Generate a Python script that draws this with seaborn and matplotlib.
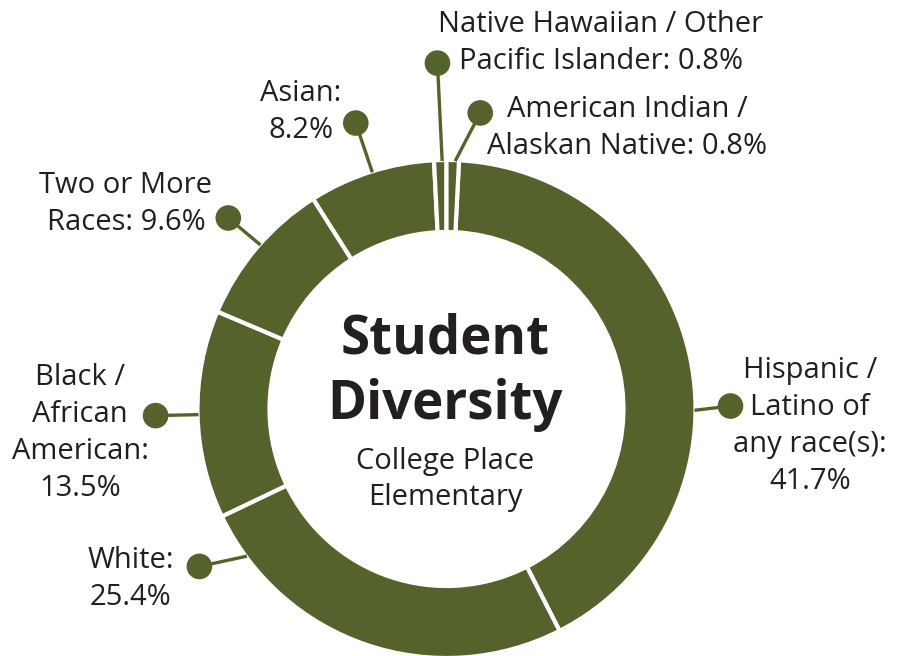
import matplotlib
matplotlib.use("Agg")
import matplotlib.pyplot as plt
import seaborn as sns
import numpy as np

# ---- data ----
categories = [
    "Hispanic / Latino of any race(s)",
    "White",
    "Black / African American",
    "Two or More Races",
    "Asian",
    "Native Hawaiian / Other Pacific Islander",
    "American Indian / Alaskan Native",
]
values = [41.7, 25.4, 13.5, 9.6, 8.2, 0.8, 0.8]
label_texts = [
    "Hispanic /\nLatino of\nany race(s):\n41.7%",
    "White:\n25.4%",
    "Black /\nAfrican\nAmerican:\n13.5%",
    "Two or More\nRaces: 9.6%",
    "Asian:\n8.2%",
    "Native Hawaiian / Other\nPacific Islander: 0.8%",
    "American Indian /\nAlaskan Native: 0.8%",
]
title_text = "Student\nDiversity"
subtitle_text = "College Place\nElementary"

# ---- layout (pixel space, y measured from top) ----
W_PX, H_PX = 904, 656
CX, CY_TOP = 446.5, 409.0
R_OUT, RING_W = 249.0, 72.0
GREEN = "#55622C"
TEXT = "#231F20"

# leader geometry: (ring angle, dot angle, dot radius)
leaders = [
    (-0.3, 0.6, 284),
    (-143.6, -147.5, 293),
    (181.3, 181.3, 291),
    (138.6, 138.8, 290),
    (107.4, 107.6, 300),
    (91.0, 91.5, 346),
    (88.0, 83.5, 298),
]
# label centres (x, y from top)
label_pos = [
    (810, 426),
    (131, 579),
    (80, 433),
    (126, 204),
    (301, 112),
    (601, 43),
    (627, 128),
]

sns.set_theme(style="white")
plt.rcParams["font.family"] = ["Open Sans", "DejaVu Sans"]

fig = plt.figure(figsize=(W_PX / 100, H_PX / 100), dpi=100)
ax = fig.add_axes([0, 0, 1, 1])

CY = H_PX - CY_TOP
start = 90 - values[-1] * 3.6
ax.pie(values, startangle=start, counterclock=False, radius=R_OUT,
       center=(CX, CY), colors=[GREEN] * len(values),
       wedgeprops=dict(width=RING_W, edgecolor="white", linewidth=3))

ax.set_xlim(0, W_PX)
ax.set_ylim(0, H_PX)
ax.set_aspect("equal")
ax.axis("off")

for (ra, da, dr), (lx, ly), txt in zip(leaders, label_pos, label_texts):
    x0 = CX + (R_OUT - 1) * np.cos(np.radians(ra))
    y0 = CY + (R_OUT - 1) * np.sin(np.radians(ra))
    x1 = CX + dr * np.cos(np.radians(da))
    y1 = CY + dr * np.sin(np.radians(da))
    ax.plot([x0, x1], [y0, y1], color=GREEN, lw=2.4, solid_capstyle="butt", zorder=3)
    ax.scatter([x1], [y1], s=340, color=GREEN, edgecolors="none", zorder=4)
    ax.text(lx, H_PX - ly, txt, ha="center", va="center", multialignment="center",
            fontsize=21, color=TEXT, linespacing=1.36)

ax.text(CX - 1, H_PX - 372.5, title_text, ha="center", va="center",
        fontsize=38, fontweight="bold", color=TEXT, linespacing=1.27)
ax.text(CX - 1, H_PX - 479.5, subtitle_text, ha="center", va="center",
        fontsize=21, color=TEXT, linespacing=1.3)

fig.savefig("out.png", dpi=100, facecolor="white")
